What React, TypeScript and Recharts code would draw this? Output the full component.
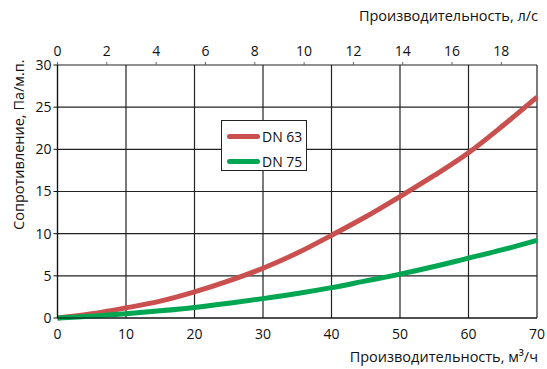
import React from 'react';
import { LineChart, Line, XAxis, YAxis, CartesianGrid, Legend, Label } from 'recharts';

const flowM3h = [0, 5, 10, 15, 20, 25, 30, 35, 40, 45, 50, 55, 60, 65, 70];
const dn63 = [0, 0.5, 1.2, 2.0, 3.1, 4.4, 5.9, 7.7, 9.8, 12.0, 14.4, 16.9, 19.6, 22.8, 26.2];
const dn75 = [0, 0.2, 0.5, 0.85, 1.25, 1.75, 2.3, 2.9, 3.6, 4.4, 5.2, 6.1, 7.1, 8.1, 9.2];
const bottomTicks = [0, 10, 20, 30, 40, 50, 60, 70];
const topTicks = [0, 2, 4, 6, 8, 10, 12, 14, 16, 18];
const yTicks = [0, 5, 10, 15, 20, 25, 30];
const seriesNames = ['DN 63', 'DN 75'];
const seriesColors = ['#c9504f', '#00a651'];

const data = flowM3h.map((q, i) => ({ q, ls: q / 3.6, dn63: dn63[i], dn75: dn75[i] }));

const FONT = '"Open Sans", sans-serif';

const LegendBox = (props: any) => {
  const items = props.payload || [];
  return (
    <div style={{ border: '1px solid #222', background: '#fff', width: 86, height: 51, boxSizing: 'border-box', padding: '5px 0 0 5px', fontFamily: FONT, fontSize: 14, color: '#111' }}>
      {items.map((p: any) => (
        <div key={p.value} style={{ display: 'flex', alignItems: 'center', height: 20, marginBottom: 5 }}>
          <div style={{ width: 33, height: 5, borderRadius: 3, background: p.color, marginRight: 2 }} />
          <span>{p.value}</span>
        </div>
      ))}
    </div>
  );
};

const YLabel = (props: any) => {
  const vb = props.viewBox || {};
  const cx = 19;
  const cy = vb.y + vb.height * 0.315;
  return (
    <text x={cx} y={cy} transform={`rotate(-90 ${cx} ${cy})`} textAnchor="middle" dominantBaseline="central" fontFamily={FONT} fontSize={14.5} fill="#111">
      Сопротивление, Па/м.п.
    </text>
  );
};

const TopLabel = (props: any) => {
  const vb = props.viewBox || {};
  return (
    <text x={vb.x + vb.width + 1} y={21} textAnchor="end" fontFamily={FONT} fontSize={14.5} fill="#111">
      Производительность, л/с
    </text>
  );
};

const BottomLabel = (props: any) => {
  const vb = props.viewBox || {};
  return (
    <text x={vb.x + vb.width + 1} y={362} textAnchor="end" fontFamily={FONT} fontSize={14.5} fill="#111">
      Производительность, м³/ч
    </text>
  );
};

export default function App() {
  return (
    <div style={{ position: 'absolute', left: 0, top: 0, background: '#fff' }}>
      <LineChart width={547} height={369} data={data} margin={{ top: 0, right: 10, bottom: 0, left: 0 }}>
        <CartesianGrid xAxisId="m3" stroke="#222" strokeWidth={1.2} />
        <XAxis xAxisId="m3" dataKey="q" type="number" domain={[0, 70]} ticks={bottomTicks} height={51}
          tickLine={false} axisLine={{ stroke: '#111', strokeWidth: 1.2 }} tick={{ fill: '#111', fontSize: 14, fontFamily: FONT }} tickMargin={5} interval={0}>
          <Label content={<BottomLabel />} />
        </XAxis>
        <XAxis xAxisId="ls" dataKey="ls" type="number" orientation="top" domain={[0, 70 / 3.6]} ticks={topTicks} height={65}
          tickSize={3} tickLine={{ stroke: '#666' }} axisLine={false} tick={{ fill: '#111', fontSize: 14, fontFamily: FONT }} tickMargin={6} interval={0} allowDataOverflow>
          <Label content={<TopLabel />} />
        </XAxis>
        <YAxis type="number" domain={[0, 30]} ticks={yTicks} width={57.5} tickSize={4}
          tickLine={{ stroke: '#111' }} axisLine={{ stroke: '#111', strokeWidth: 1.2 }} tick={{ fill: '#111', fontSize: 14, fontFamily: FONT }} interval={0}>
          <Label content={<YLabel />} />
        </YAxis>
        <Legend content={<LegendBox />} layout="horizontal" verticalAlign="middle" align="center" wrapperStyle={{ left: 221, top: 120, width: 86 }} />
        <Line xAxisId="m3" type="monotone" dataKey="dn63" name={seriesNames[0]} stroke={seriesColors[0]} strokeWidth={5} dot={false} isAnimationActive={false} />
        <Line xAxisId="m3" type="monotone" dataKey="dn75" name={seriesNames[1]} stroke={seriesColors[1]} strokeWidth={5} dot={false} isAnimationActive={false} />
      </LineChart>
    </div>
  );
}
